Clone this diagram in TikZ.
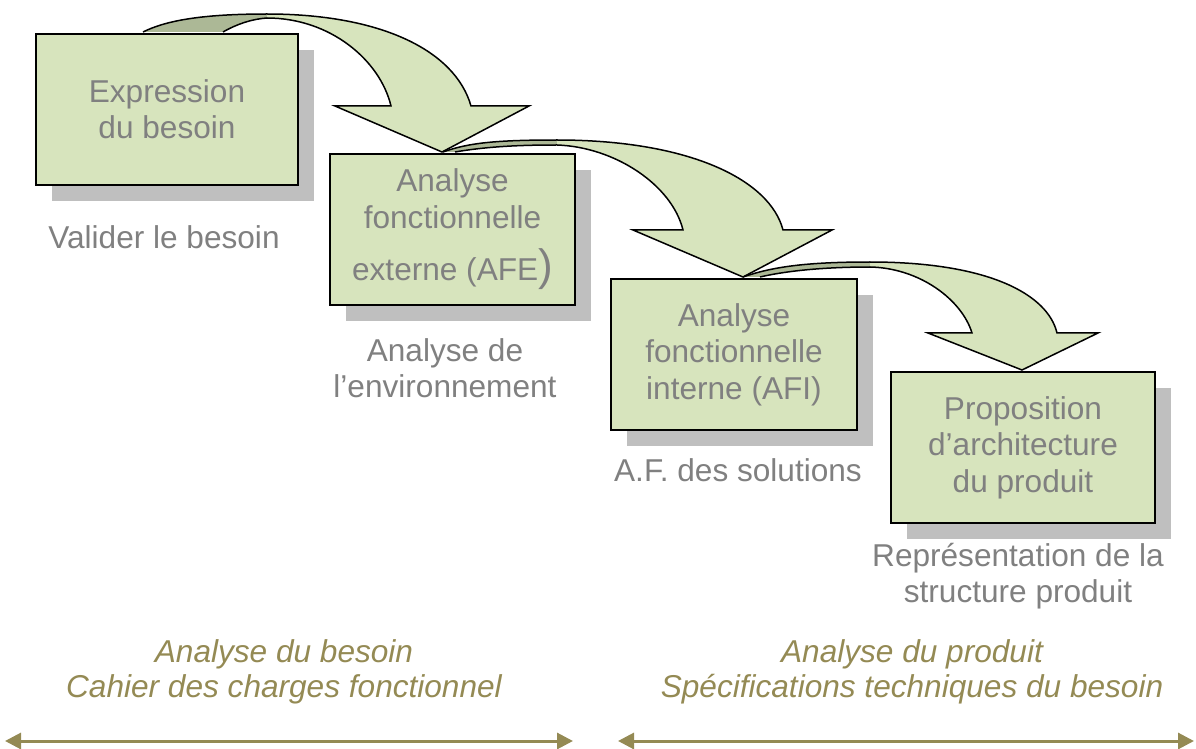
\documentclass[tikz,border=0pt]{standalone}
\usepackage{fontspec}
\setmainfont{Liberation Sans}
\usetikzlibrary{arrows.meta,shadows}
\definecolor{boxgreen}{RGB}{215,228,189}
\definecolor{bandgreen}{RGB}{172,184,150}
\definecolor{shadowgray}{RGB}{191,191,191}
\definecolor{notegray}{RGB}{128,128,128}
\definecolor{phaseolive}{RGB}{148,138,84}
\begin{document}
\begin{tikzpicture}[x=0.5pt,y=-0.5pt,
  stage/.style={draw=black,line width=1pt,fill=boxgreen,anchor=north west,align=center,text=notegray,
    minimum height=75.5pt,inner sep=0pt,font=\fontsize{15.8}{18.2}\selectfont,
    drop shadow={shadow xshift=8pt,shadow yshift=-8pt,fill=shadowgray,opacity=1}},
  note/.style={align=center,text=notegray,font=\fontsize{15.8}{17.8}\selectfont},
  phase/.style={align=center,text=phaseolive,font=\fontsize{15.8}{17.6}\selectfont\itshape},
  band/.style={draw=black,line width=0.75pt},
  span/.style={draw=phaseolive,line width=1.5pt,<->,>={Triangle[length=8pt,width=8pt]}}]
\useasboundingbox (0,0) rectangle (1196,749);

\fill[bandgreen] (143,32) .. controls (165,21) and (200,14) .. (267,14) -- (267,18) .. controls (252,19) and (237,24) .. (223,32) -- cycle;
\fill[boxgreen] (267,14) .. controls (380,14) and (455,50) .. (471,106) -- (529,106) -- (442,152) -- (335,106) -- (391,106) .. controls (380,60) and (330,18) .. (267,18) -- cycle;
\draw[band] (143,32) .. controls (165,21) and (200,14) .. (267,14) .. controls (380,14) and (455,50) .. (471,106) -- (529,106) -- (442,152) -- (335,106) -- (391,106) .. controls (380,60) and (330,18) .. (267,18) .. controls (252,19) and (237,24) .. (223,32);

\fill[bandgreen] (443,152) .. controls (468,143) and (495,140) .. (557,140) -- (557,145) .. controls (525,145) and (490,146) .. (455,152) -- cycle;
\fill[boxgreen] (557,140) .. controls (690,140) and (770,180) .. (783,230) -- (832,230) -- (743,277) -- (633,230) -- (683,230) .. controls (672,185) and (615,147) .. (557,145) -- cycle;
\draw[band] (443,152) .. controls (468,143) and (495,140) .. (557,140) .. controls (690,140) and (770,180) .. (783,230) -- (832,230) -- (743,277) -- (633,230) -- (683,230) .. controls (672,185) and (615,147) .. (557,145) .. controls (525,145) and (490,146) .. (455,152);

\fill[bandgreen] (743,277) .. controls (772,267) and (805,262) .. (870,262) -- (870,267) .. controls (830,267) and (790,270) .. (760,277) -- cycle;
\fill[boxgreen] (870,262) .. controls (990,262) and (1048,295) .. (1057,333) -- (1098,333) -- (1022,370) -- (928,333) -- (972,333) .. controls (962,300) and (920,268) .. (870,267) -- cycle;
\draw[band] (743,277) .. controls (772,267) and (805,262) .. (870,262) .. controls (990,262) and (1048,295) .. (1057,333) -- (1098,333) -- (1022,370) -- (928,333) -- (972,333) .. controls (962,300) and (920,268) .. (870,267) .. controls (830,267) and (790,270) .. (760,277);

\node[stage,minimum width=131pt] (expression) at (35,33) {Expression\\du besoin};
\node[stage,minimum width=122.5pt] (afe) at (329,153) {Analyse\\fonctionnelle\\[8pt]externe (AFE{\fontsize{22}{18.2}\selectfont)}};
\node[stage,minimum width=123pt] (afi) at (610,278) {Analyse\\fonctionnelle\\interne (AFI)};
\node[stage,minimum width=132pt] (archi) at (890,371) {Proposition\\d’architecture\\du produit};

\node[note] (valider) at (164,237) {Valider le besoin};
\node[note] (environnement) at (445,368) {Analyse de\\l’environnement};
\node[note] (solutions) at (738,470) {A.F. des solutions};
\node[note] (representation) at (1018,576) {Représentation de la\\structure produit};

\node[phase] (besoin) at (284,672) {Analyse du besoin\\Cahier des charges fonctionnel};
\node[phase] (produit) at (912,672) {Analyse du produit\\Spécifications techniques du besoin};

\coordinate (besoinL) at (5,741);
\coordinate (besoinR) at (573,741);
\coordinate (produitL) at (618,741);
\coordinate (produitR) at (1194,741);
\draw[span] (besoinL) -- (besoinR);
\draw[span] (produitL) -- (produitR);
\end{tikzpicture}
\end{document}
